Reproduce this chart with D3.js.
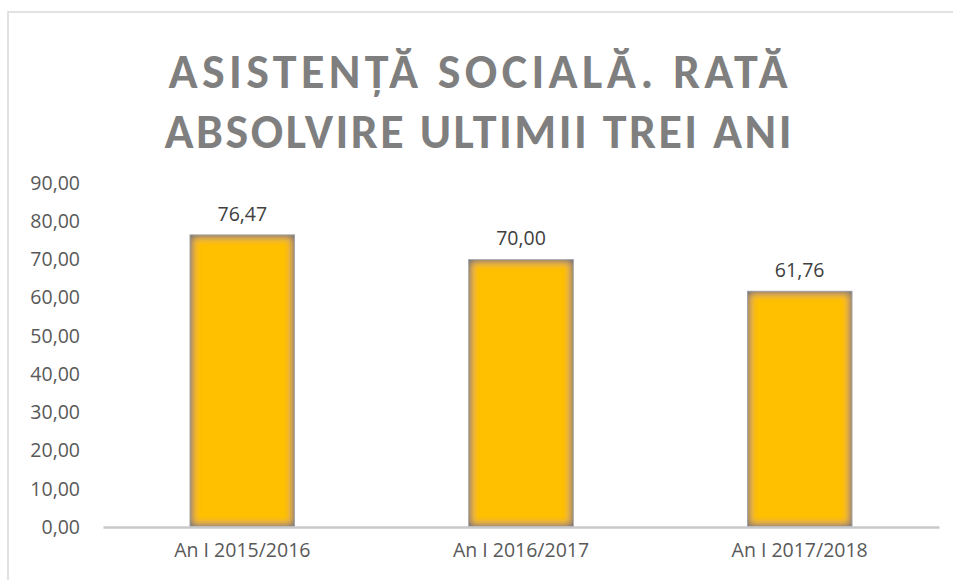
<!DOCTYPE html>
<html>
<head>
<meta charset="utf-8">
<script src="https://cdn.jsdelivr.net/npm/d3@7"></script>
<style>
  html, body { margin: 0; padding: 0; background: #fff; }
  svg { display: block; }
  text { font-family: "Open Sans", sans-serif; }
</style>
</head>
<body>
<div id="chart"></div>
<script>
const titleLines = ["ASISTENȚĂ SOCIALĂ. RATĂ", "ABSOLVIRE ULTIMII TREI ANI"];
const categories = ["An I 2015/2016", "An I 2016/2017", "An I 2017/2018"];
const values = [76.47, 70.00, 61.76];
const yTicks = [0, 10, 20, 30, 40, 50, 60, 70, 80, 90];

const W = 953, H = 580;
const plot = {left: 103, right: 939, top: 183, bottom: 527};

const fmt = v => v.toFixed(2).replace(".", ",");
const labelFont = '"Open Sans", sans-serif';

const svg = d3.select("#chart").append("svg")
    .attr("width", W).attr("height", H);

// inner shadow for the bars
const defs = svg.append("defs");
const f = defs.append("filter").attr("id", "inner")
    .attr("x", "-20%").attr("y", "-20%").attr("width", "140%").attr("height", "140%");
f.append("feFlood").attr("flood-color", "#646c78").attr("result", "flood");
f.append("feComposite").attr("in", "flood").attr("in2", "SourceAlpha").attr("operator", "out").attr("result", "outside");
f.append("feGaussianBlur").attr("in", "outside").attr("stdDeviation", 5).attr("result", "blur");
f.append("feComposite").attr("in", "blur").attr("in2", "SourceAlpha").attr("operator", "in").attr("result", "shadow");
const merge = f.append("feMerge");
merge.append("feMergeNode").attr("in", "SourceGraphic");
merge.append("feMergeNode").attr("in", "shadow");
merge.append("feMergeNode").attr("in", "shadow");

// chart frame
svg.append("rect")
    .attr("x", 8).attr("y", 12)
    .attr("width", 980).attr("height", 620)
    .attr("fill", "#fff")
    .attr("stroke", "#d9d9d9").attr("stroke-width", 1.5);

// title
const titleWidths = [619, 627];
titleLines.forEach((t, i) => {
    svg.append("text")
        .attr("x", 478).attr("y", 88 + i * 60)
        .attr("text-anchor", "middle")
        .attr("fill", "#7f7f7f")
        .style("font-family", "Carlito, Lato, sans-serif")
        .style("font-size", "48px")
        .style("font-weight", "bold")
        .attr("textLength", titleWidths[i])
        .attr("lengthAdjust", "spacing")
        .text(t);
});

const x = d3.scaleBand().domain(categories)
    .range([plot.left, plot.right])
    .paddingInner(0.623).paddingOuter(0.3115);
const y = d3.scaleLinear().domain([0, 90]).range([plot.bottom, plot.top]);

// y tick labels (no axis line)
const yAxis = svg.append("g")
    .attr("transform", `translate(${plot.left - 6},0)`)
    .call(d3.axisLeft(y).tickValues(yTicks).tickFormat(fmt).tickSize(0).tickPadding(17));
yAxis.select(".domain").remove();
yAxis.selectAll("text")
    .attr("fill", "#595959")
    .style("font-size", "19.5px")
    .style("font-family", labelFont);

// bars
svg.append("g").selectAll("rect")
    .data(values)
    .join("rect")
    .attr("x", (d, i) => x(categories[i]))
    .attr("y", d => y(d))
    .attr("width", x.bandwidth())
    .attr("height", d => y(0) - y(d))
    .attr("fill", "#ffc000")
    .attr("filter", "url(#inner)");

svg.append("g").selectAll("rect")
    .data(values)
    .join("rect")
    .attr("x", (d, i) => x(categories[i]) + 0.25)
    .attr("y", d => y(d) + 0.25)
    .attr("width", x.bandwidth() - 0.5)
    .attr("height", d => y(0) - y(d) - 0.5)
    .attr("fill", "none")
    .attr("stroke", "#9fb4d6")
    .attr("stroke-width", 0.6);

// data labels
svg.append("g").selectAll("text")
    .data(values)
    .join("text")
    .attr("x", (d, i) => x(categories[i]) + x.bandwidth() / 2)
    .attr("y", d => y(d) - 14)
    .attr("text-anchor", "middle")
    .attr("fill", "#404040")
    .style("font-size", "19.5px")
    .style("font-family", labelFont)
    .text(fmt);

// x axis
const xAxis = svg.append("g")
    .attr("transform", `translate(0,${plot.bottom})`)
    .call(d3.axisBottom(x).tickSize(0).tickPadding(16));
xAxis.select(".domain")
    .attr("stroke", "#c9c9c9").attr("stroke-width", 2.5);
xAxis.selectAll("text")
    .attr("fill", "#595959")
    .style("font-size", "19.5px")
    .style("font-family", labelFont);
</script>
</body>
</html>
